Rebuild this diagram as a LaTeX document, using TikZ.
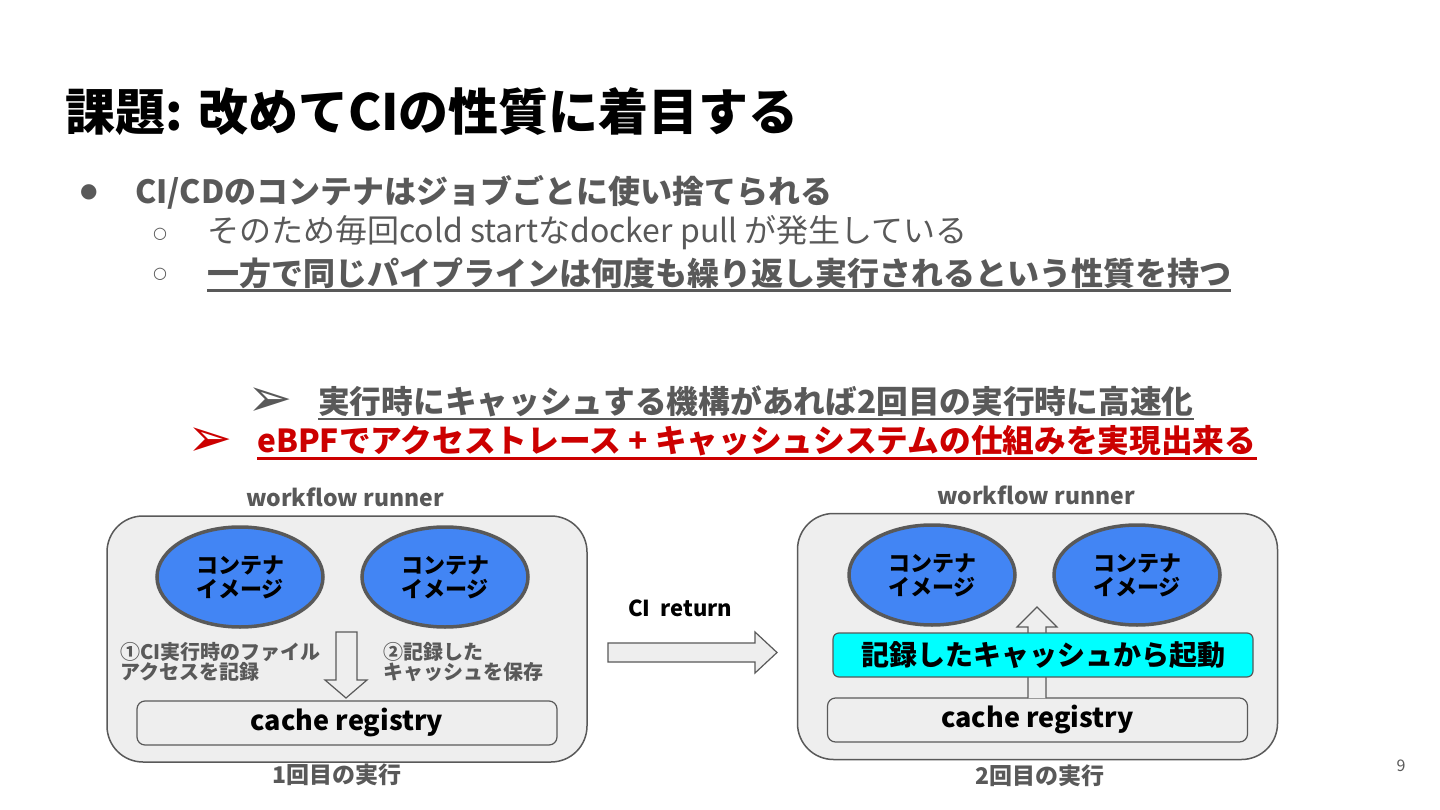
\documentclass[tikz,border=0pt]{standalone}
\usepackage{fontspec}
\setmainfont{Noto Sans CJK JP}
\newfontfamily\symfont{DejaVu Sans}
\usetikzlibrary{shapes.geometric,calc}
\definecolor{tgray}{HTML}{595959}
\definecolor{eblue}{HTML}{4285F4}
\definecolor{boxfill}{HTML}{EEEEEE}
\definecolor{ered}{HTML}{CC0000}
\definecolor{ecyan}{HTML}{00FFFF}
\newcommand{\fs}[1]{\fontsize{#1}{#1}\selectfont}
\begin{document}
\begin{tikzpicture}[x=1pt,y=-1pt,
  txt/.style={inner sep=0pt, anchor=west},
  runner/.style={draw=tgray, line width=1.5pt, fill=boxfill, rounded corners=36pt, minimum width=480pt, minimum height=246pt, inner sep=0pt},
  img/.style={ellipse, draw=tgray, line width=3.5pt, fill=eblue, minimum width=166pt, minimum height=100pt, inner sep=0pt, align=center, font=\fs{22}\bfseries, text=black},
  reg/.style={draw=tgray, line width=1.2pt, fill=boxfill, rounded corners=8pt, minimum width=420pt, minimum height=44pt, inner sep=0pt, font=\fs{27}\bfseries},
  blockarrow/.style={draw=tgray, line width=1.2pt, fill=boxfill, line join=miter},
  caplabel/.style={inner sep=0pt, font=\fs{23}\bfseries, text=tgray},
  note/.style={inner sep=0pt, anchor=west, align=left, font=\fs{20}\bfseries, text=tgray},
]
\useasboundingbox (0,0) rectangle (1440,810);
\fill[white] (0,0) rectangle (1440,810);

% title
\node[txt, font=\fs{50}\bfseries] (title) at (65,112) {課題: 改めてCIの性質に着目する};

% bullets
\node[txt, font=\symfont\fs{20}, text=tgray] (b1) at (80,192) {●};
\node[txt, font=\fs{32}\bfseries, text=tgray] (t1) at (135,192) {CI/CDのコンテナはジョブごとに使い捨てられる};
\node[txt, font=\symfont\fs{16}, text=tgray] (b2) at (153,234) {○};
\node[txt, font=\fs{32}, text=tgray] (t2) at (207,233) {そのため毎回cold startなdocker pull が発生している};
\node[txt, font=\symfont\fs{16}, text=tgray] (b3) at (153,274) {○};
\node[txt, font=\fs{32}\bfseries, text=tgray] (t3) at (207,273) {一方で同じパイプラインは何度も繰り返し実行されるという性質を持つ};
\draw[tgray, line width=2.5pt] ($(t3.south west)+(0,2)$) -- ($(t3.south east)+(0,2)$);

\node[txt, font=\symfont\fs{54}, text=tgray] (a4) at (247,402) {➢};
\node[txt, font=\fs{31.7}\bfseries, text=tgray] (t4) at (318,401) {実行時にキャッシュする機構があれば2回目の実行時に高速化};
\draw[tgray, line width=2.5pt] ($(t4.south west)+(0,2)$) -- ($(t4.south east)+(0,2)$);
\node[txt, font=\symfont\fs{54}, text=ered] (a5) at (187,442) {➢};
\node[txt, font=\fs{31.7}\bfseries, text=ered] (t5) at (257,441) {eBPFでアクセストレース + キャッシュシステムの仕組みを実現出来る};
\draw[ered, line width=2.5pt] ($(t5.south west)+(0,2)$) -- ($(t5.south east)+(0,2)$);

% left runner
\node[caplabel] (w1) at (345,497) {workflow runner};
\node[runner] (r1) at (347,639) {};
\node[img] (e1) at (240,577) {コンテナ\\[2pt]イメージ};
\node[img] (e2) at (445,577) {コンテナ\\[2pt]イメージ};
\node[reg] (g1) at (347,723) {cache registry};
\draw[blockarrow] (336,632) -- (357,632) -- (357,680) -- (367,680) -- (346,698) -- (325,680) -- (336,680) -- cycle;
\node[note] (n1) at (120,662) {①CI実行時のファイル\\[0pt]アクセスを記録};
\node[note] (n2) at (383,662) {②記録した\\[0pt]キャッシュを保存};
\node[caplabel] (c1) at (337,775) {1回目の実行};

% middle
\node[txt, font=\fs{22}\bfseries] (ret) at (628,608) {CI\ \ return};
\draw[blockarrow] (608,643) -- (755,643) -- (755,632) -- (777,652.5) -- (755,673) -- (755,662) -- (608,662) -- cycle;

% right runner
\node[caplabel] (w2) at (1036,495) {workflow runner};
\node[runner] (r2) at (1037.5,636.5) {};
\node[img] (e3) at (932,575) {コンテナ\\[2pt]イメージ};
\node[img] (e4) at (1137,575) {コンテナ\\[2pt]イメージ};
\node[reg] (g2) at (1037.5,720) {cache registry};
\draw[blockarrow] (1028,698) -- (1028,627) -- (1017,627) -- (1037,607) -- (1057,627) -- (1046,627) -- (1046,698);
\node[draw=tgray, line width=1.2pt, fill=ecyan, rounded corners=6pt, minimum width=420pt, minimum height=44pt, inner sep=0pt, font=\fs{28}\bfseries] (k) at (1043,655) {記録したキャッシュから起動};
\node[caplabel] (c2) at (1040,776) {2回目の実行};

\node[inner sep=0pt, font=\fs{16}, text=tgray] (pg) at (1401,766) {9};
\end{tikzpicture}
\end{document}
